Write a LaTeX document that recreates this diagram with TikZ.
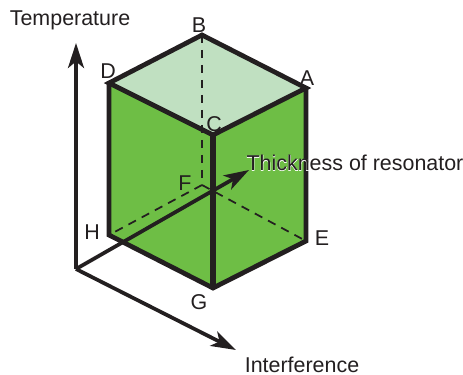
\documentclass[tikz,border=0pt]{standalone}
\usepackage{fontspec}
\setmainfont{Liberation Sans}
\newfontfamily\haloface[FakeBold=2]{Liberation Sans}
\usepackage{xcolor}
\usepackage{tikz}
\usetikzlibrary{arrows.meta,positioning}
\definecolor{sidegreen}{HTML}{6EBE45}
\definecolor{topgreen}{HTML}{C0E0C1}
\definecolor{inkblack}{HTML}{231F20}
\newcommand{\halotext}[1]{\rlap{\haloface\color{white}#1}#1}

\begin{document}
\begin{tikzpicture}[
  x=0.02cm,y=-0.02cm,
  lbl/.style={inner sep=0pt,text=inkblack,font=\fontsize{12.2}{14}\selectfont},
  edge/.style={draw=inkblack,line width=0.095cm,line join=miter},
  hidden/.style={draw=inkblack,line width=0.035cm,dash pattern=on 0.17cm off 0.13cm},
  axis/.style={draw=inkblack,line width=0.075cm,-{Stealth[length=0.5cm,width=0.32cm,inset=0.13cm]}},
]
\useasboundingbox (0,0) rectangle (463,375);
\coordinate (ptA) at (306,88);
\coordinate (ptB) at (202,35);
\coordinate (ptC) at (213,135);
\coordinate (ptD) at (109,83);
\coordinate (ptE) at (306,241);
\coordinate (ptF) at (202,185);
\coordinate (ptG) at (213,288);
\coordinate (ptH) at (109,235);
\coordinate (orig) at (76,269);
\coordinate (tempEnd) at (76,43);
\coordinate (thickEnd) at (249,170);
\coordinate (interEnd) at (236,350);

% faces
\fill[topgreen] (ptA) -- (ptB) -- (ptD) -- (ptC) -- cycle;
\fill[sidegreen] (ptD) -- (ptC) -- (ptA) -- (ptE) -- (ptG) -- (ptH) -- cycle;

% hidden edges
\draw[hidden] (ptB) -- (ptF);
\draw[hidden] (ptF) -- (ptH);
\draw[hidden] (ptF) -- (ptE);

% visible edges
\draw[edge] (ptD) -- (ptB) -- (ptA) -- (ptC) -- cycle;
\draw[edge] (ptD) -- (ptH) -- (ptG) -- (ptE) -- (ptA);
\draw[edge,line width=0.11cm] (ptC) -- (ptG);

% axes
\draw[axis] (orig) -- (tempEnd);
\draw[axis] (orig) -- (thickEnd);
\draw[axis] (orig) -- (interEnd);

\node[lbl] (tempLbl) at (70,20) {Temperature};
\node[lbl] (thickLbl) at (355,163) {\halotext{Thickness of resonator}};
\node[lbl] (interLbl) at (302,365) {Interference};
\node[lbl] (lblA) at (307,78) {A};
\node[lbl] (lblB) at (199,25) {B};
\node[lbl] (lblC) at (214,124) {C};
\node[lbl] (lblD) at (108,71) {D};
\node[lbl] (lblE) at (322,238) {E};
\node[lbl] (lblF) at (185,183) {F};
\node[lbl] (lblG) at (199,302) {G};
\node[lbl] (lblH) at (92,232) {H};
\end{tikzpicture}
\end{document}
